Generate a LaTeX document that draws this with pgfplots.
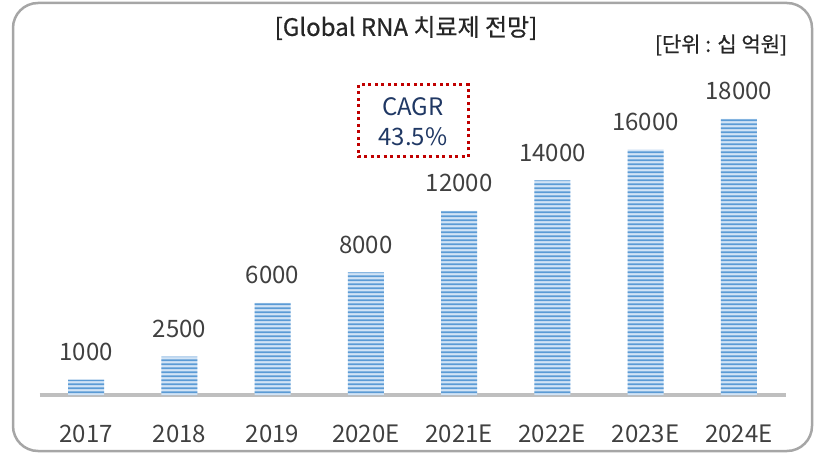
\documentclass[border=0pt]{standalone}
\usepackage{pgfplots}
\pgfplotsset{compat=1.18}
\usepackage{fontspec}
\setmainfont{Noto Sans CJK KR}
\newfontfamily\titlefont[FakeBold=0.6]{Noto Sans CJK KR}
\usetikzlibrary{patterns}
\pgfdeclarepatternformonly{hstripes}{\pgfpoint{0pt}{0pt}}{\pgfpoint{200pt}{4pt}}{\pgfpoint{200pt}{4pt}}{%
  \pgfpathrectangle{\pgfpoint{-1pt}{1pt}}{\pgfpoint{202pt}{2.2pt}}\pgfusepath{fill}}
\definecolor{barlight}{HTML}{D2E4F6}
\definecolor{barstripe}{HTML}{5B9BD5}
\definecolor{txtgray}{HTML}{404040}
\definecolor{framegray}{HTML}{A6A6A6}
\definecolor{axisgray}{HTML}{BFBFBF}
\definecolor{navy}{HTML}{203864}
\definecolor{cagrred}{HTML}{C00000}
\begin{document}
\begin{tikzpicture}[x=1pt,y=1pt]
\useasboundingbox (0,0) rectangle (825,453);
\clip (0,0) rectangle (825,453);
\draw[framegray, line width=2.5pt, rounded corners=25pt] (13,2) rectangle (812,450);
\node[font=\titlefont\fontsize{24}{28}\selectfont, text=black!85] at (406,425) {[Global RNA 치료제 전망]};
\node[font=\titlefont\fontsize{21}{25}\selectfont, text=black!85] at (721,408) {[단위 : 십 억원]};
\begin{axis}[
  at={(39.5pt,58pt)}, anchor=south west,
  scale only axis, width=746pt, height=306.7pt,
  xmin=-0.5, xmax=7.5, ymin=0, ymax=20000,
  hide y axis,
  axis x line*=bottom,
  x axis line style={axisgray, line width=4pt},
  xtick={0,...,7},
  xticklabels={2017,2018,2019,2020E,2021E,2022E,2023E,2024E},
  major tick length=0pt,
  xticklabel style={anchor=base, yshift=-47pt, font=\fontsize{24}{28}\selectfont, text=txtgray},
  ybar, bar width=36pt,
  clip=false,
  nodes near coords,
  /pgf/number format/1000 sep={},
  /pgf/number format/assume math mode=true,
  nodes near coords style={anchor=base, yshift=19pt, font=\fontsize{24}{28}\selectfont, text=txtgray},
]
\addplot[draw=none, fill=barlight, postaction={pattern=hstripes, pattern color=barstripe}]
coordinates {(0,1000) (1,2500) (2,6000) (3,8000) (4,12000) (5,14000) (6,16000) (7,18000)};
\end{axis}
\draw[cagrred, line width=3pt, dash pattern=on 3pt off 3.5pt] (358,368) rectangle (468,296);
\node[font=\fontsize{24}{28}\selectfont, text=navy] at (413,346) {CAGR};
\node[font=\fontsize{24}{28}\selectfont, text=navy] at (413,316) {43.5\%};
\end{tikzpicture}
\end{document}
